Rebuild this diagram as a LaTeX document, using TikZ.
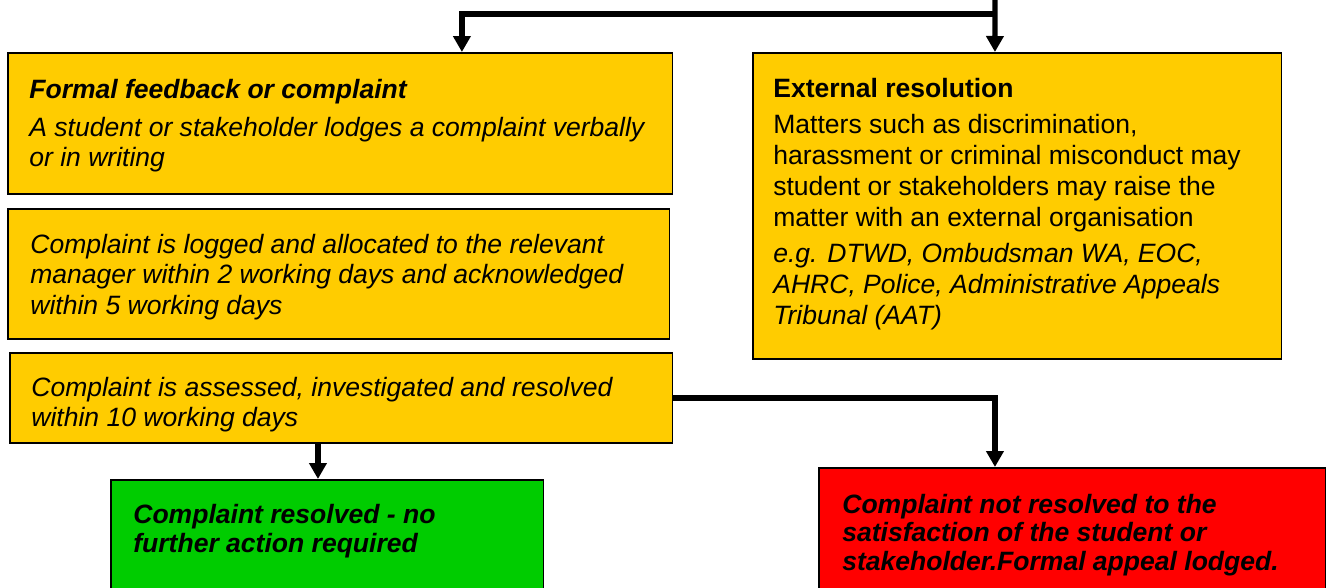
\documentclass[tikz,border=0pt]{standalone}
\usepackage{fontspec}
\setmainfont{Liberation Sans}
\usepackage{xcolor}
\usepackage{tikz}
\usetikzlibrary{arrows.meta, positioning}
\definecolor{stepyellow}{HTML}{FFCC00}
\definecolor{stepgreen}{HTML}{00CC00}
\definecolor{stepred}{HTML}{FF0000}
\tikzstyle{flow} = [line width=3.1pt, -{Triangle[width=0.34cm, length=0.32cm]}]
\tikzstyle{stepbox} = [rectangle, draw=black, line width=0.9pt, anchor=north west, inner sep=0pt]
\tikzstyle{boxtext} = [anchor=north west, inner sep=0pt, align=left, font=\fontsize{15.1pt}{17.6pt}\selectfont]

\begin{document}
\begin{tikzpicture}[x=0.02cm, y=-0.02cm]

  \clip (0,0) rectangle (1330,588);

  % Boxes
  \node (box1) [stepbox, fill=stepyellow, minimum width=13.30cm, minimum height=2.82cm] at (7,52) {};
  \node (box2) [stepbox, fill=stepyellow, minimum width=13.24cm, minimum height=2.60cm] at (7,208) {};
  \node (box3) [stepbox, fill=stepyellow, minimum width=13.26cm, minimum height=1.80cm] at (9,352) {};
  \node (ext) [stepbox, fill=stepyellow, minimum width=10.58cm, minimum height=6.12cm] at (752,52) {};
  \node (done) [stepbox, fill=stepgreen, minimum width=8.66cm, minimum height=2.80cm] at (110,479) {};
  \node (appeal) [stepbox, fill=stepred, minimum width=10.14cm, minimum height=3.00cm] at (818,467) {};

  % Texts
  \node (t1) [boxtext, below right=0.53cm and 0.44cm of box1.north west]
    {\textbf{\textit{Formal feedback or complaint}}\\[4pt]
     \textit{A student or stakeholder lodges a complaint verbally}\\
     \textit{or in writing}};
  \node (t2) [boxtext, below right=0.51cm and 0.46cm of box2.north west]
    {\textit{Complaint is logged and allocated to the relevant}\\
     \textit{manager within 2 working days and acknowledged}\\
     \textit{within 5 working days}};
  \node (t3) [boxtext, below right=0.49cm and 0.44cm of box3.north west]
    {\textit{Complaint is assessed, investigated and resolved}\\
     \textit{within 10 working days}};
  \node (t4) [boxtext, below right=0.51cm and 0.42cm of ext.north west]
    {\textbf{External resolution}\\[3pt]
     Matters such as discrimination,\\
     harassment or criminal misconduct may\\
     student or stakeholders may raise the\\
     matter with an external organisation\\[3pt]
     \textit{e.g. DTWD, Ombudsman WA, EOC,}\\
     \textit{AHRC, Police, Administrative Appeals}\\
     \textit{Tribunal (AAT)}};
  \node (t5) [boxtext, font=\fontsize{15.1pt}{17pt}\selectfont, below right=0.49cm and 0.46cm of done.north west]
    {\textbf{\textit{Complaint resolved - no}}\\
     \textbf{\textit{further action required}}};
  \node (t6) [boxtext, font=\fontsize{15.1pt}{16.4pt}\selectfont, below right=0.53cm and 0.48cm of appeal.north west]
    {\textbf{\textit{Complaint not resolved to the}}\\
     \textbf{\textit{satisfaction of the student or}}\\
     \textbf{\textit{stakeholder.Formal appeal lodged.}}};

  % Arrows
  \coordinate (top) at (995,0);
  \coordinate (split) at (995,14);
  \coordinate (in1) at ([xshift=9.10cm]box1.north west);
  \coordinate (inext) at ([xshift=4.86cm]ext.north west);
  \coordinate (indone) at ([xshift=4.16cm]done.north west);
  \coordinate (inappeal) at ([xshift=3.54cm]appeal.north west);
  \draw[flow] (top) -- (inext);
  \draw[flow] (split) -| (in1);
  \draw[flow] (indone |- box3.south) -- (indone);
  \draw[flow] (box3.east) -| (inappeal);

\end{tikzpicture}
\end{document}
